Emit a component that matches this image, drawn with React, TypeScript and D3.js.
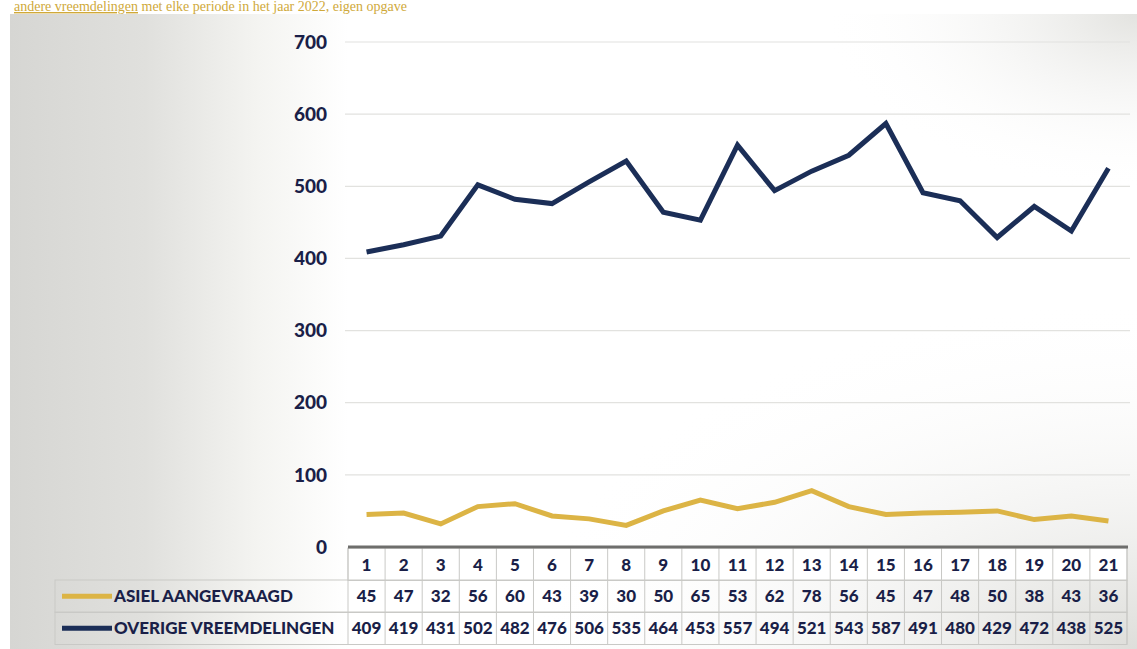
import React from 'react';
import * as d3 from 'd3';

// periodes (kolommen van de tabel)
const periods = ['1', '2', '3', '4', '5', '6', '7', '8', '9', '10', '11', '12', '13', '14', '15', '16', '17', '18', '19', '20', '21'];
const asiel = [45, 47, 32, 56, 60, 43, 39, 30, 50, 65, 53, 62, 78, 56, 45, 47, 48, 50, 38, 43, 36];
const overige = [409, 419, 431, 502, 482, 476, 506, 535, 464, 453, 557, 494, 521, 543, 587, 491, 480, 429, 472, 438, 525];
const yTicks = [0, 100, 200, 300, 400, 500, 600, 700];
const seriesNames = ['ASIEL AANGEVRAAGD', 'OVERIGE VREEMDELINGEN'];

const WIDTH = 1137;
const HEIGHT = 649;
const GOLD = '#dcb445';
const NAVY = '#1b2e57';
const INK = '#1a1f48';
const BORDER = '#c9c9c6';
const FONT = 'Lato, "Open Sans", sans-serif';

export default function App() {
  const xBand = d3.scaleBand().domain(periods).range([348, 1127]).padding(0);
  const bw = xBand.bandwidth();
  const cx = (p: string) => (xBand(p) || 0) + bw / 2;

  const yScale = d3.scaleLinear().domain([0, 700]).range([547, 42]);

  const line = d3
    .line<number>()
    .x((_, i) => cx(periods[i]))
    .y(d => yScale(d))
    .curve(d3.curveLinear);

  // tabel rijen
  const rowTop = [548, 580, 612];
  const rowH = 32.5;
  const legendLeft = 55;

  const series = [
    { name: seriesNames[0], values: asiel, color: GOLD },
    { name: seriesNames[1], values: overige, color: NAVY }
  ];

  return (
    <div>
      <style>{'body{margin:0}'}</style>
      <svg width={WIDTH} height={HEIGHT} style={{ display: 'block' }}>
        <defs>
          <linearGradient id="paper" x1={0} x2={1} y1={0} y2={0}>
            <stop offset="0%" stopColor="#d6d6d3" />
            <stop offset="12%" stopColor="#e0e0dd" />
            <stop offset="22%" stopColor="#f4f4f1" />
            <stop offset="30%" stopColor="#ffffff" />
            <stop offset="100%" stopColor="#ffffff" />
          </linearGradient>
          <radialGradient id="corner" cx="100%" cy="100%" r="55%">
            <stop offset="0%" stopColor="#dadad6" stopOpacity={0.9} />
            <stop offset="100%" stopColor="#ffffff" stopOpacity={0} />
          </radialGradient>
          <radialGradient id="topright" cx="100%" cy="0%" r="28%">
            <stop offset="0%" stopColor="#dcdcd8" stopOpacity={0.8} />
            <stop offset="100%" stopColor="#ffffff" stopOpacity={0} />
          </radialGradient>
        </defs>

        <rect x={0} y={0} width={WIDTH} height={HEIGHT} fill="#ffffff" />

        {/* kopregel boven de foto */}
        <text x={14} y={11} fontFamily="Liberation Serif, serif" fontSize={14} fill="#cfa93a">
          <tspan textDecoration="underline">andere vreemdelingen</tspan>
          <tspan> met elke periode in het jaar 2022, eigen opgave</tspan>
        </text>

        {/* foto van de grafiek */}
        <rect x={10} y={14} width={WIDTH - 10} height={HEIGHT - 14} fill="url(#paper)" />
        <rect x={10} y={14} width={WIDTH - 10} height={HEIGHT - 14} fill="url(#corner)" />
        <rect x={10} y={14} width={WIDTH - 10} height={HEIGHT - 14} fill="url(#topright)" />

        {/* rasterlijnen */}
        {yTicks.filter(t => t > 0).map(t => (
          <line key={t} x1={345} x2={1130} y1={yScale(t)} y2={yScale(t)} stroke="#e2e2df" strokeWidth={1.2} />
        ))}

        {/* y-as labels */}
        {yTicks.map(t => (
          <text
            key={t}
            x={327}
            y={yScale(t)}
            dy="0.35em"
            textAnchor="end"
            fontFamily={FONT}
            fontWeight={900}
            fontSize={19}
            fill={INK}
          >
            {t}
          </text>
        ))}

        {/* lijnen */}
        {series.map(s => (
          <path
            key={s.name}
            d={line(s.values) || ''}
            fill="none"
            stroke={s.color}
            strokeWidth={5}
            strokeLinejoin="miter"
          />
        ))}

        {/* tabel */}
        <g>
          {/* kopregel met periodes */}
          <rect x={348} y={rowTop[0]} width={1127 - 348} height={rowH} fill="#ffffff" stroke={BORDER} />
          {periods.map(p => (
            <g key={p}>
              <line x1={xBand(p)} x2={xBand(p)} y1={rowTop[0]} y2={rowTop[2] + rowH} stroke={BORDER} />
              <text
                x={cx(p)}
                y={rowTop[0] + rowH / 2 + 1}
                dy="0.35em"
                textAnchor="middle"
                fontFamily={FONT}
                fontWeight={900}
                fontSize={17}
                fill={INK}
              >
                {p}
              </text>
            </g>
          ))}
          <line x1={1127} x2={1127} y1={rowTop[0]} y2={rowTop[2] + rowH} stroke={BORDER} />
          {/* x-as */}
          <line x1={348} x2={1128} y1={547} y2={547} stroke="#6e6e6c" strokeWidth={3} />

          {series.map((s, r) => {
            const top = rowTop[r + 1];
            return (
              <g key={s.name}>
                <rect x={legendLeft} y={top} width={1127 - legendLeft} height={rowH} fill="none" stroke={BORDER} />
                <line x1={62} x2={112} y1={top + rowH / 2} y2={top + rowH / 2} stroke={s.color} strokeWidth={5} />
                <text
                  x={114}
                  y={top + rowH / 2}
                  dy="0.35em"
                  fontFamily={FONT}
                  fontWeight={900}
                  fontSize={17}
                  fill={INK}
                >
                  {s.name}
                </text>
                {s.values.map((v, i) => (
                  <text
                    key={i}
                    x={cx(periods[i])}
                    y={top + rowH / 2}
                    dy="0.35em"
                    textAnchor="middle"
                    fontFamily={FONT}
                    fontWeight={900}
                    fontSize={17}
                    fill={INK}
                  >
                    {v}
                  </text>
                ))}
              </g>
            );
          })}
        </g>
      </svg>
    </div>
  );
}
